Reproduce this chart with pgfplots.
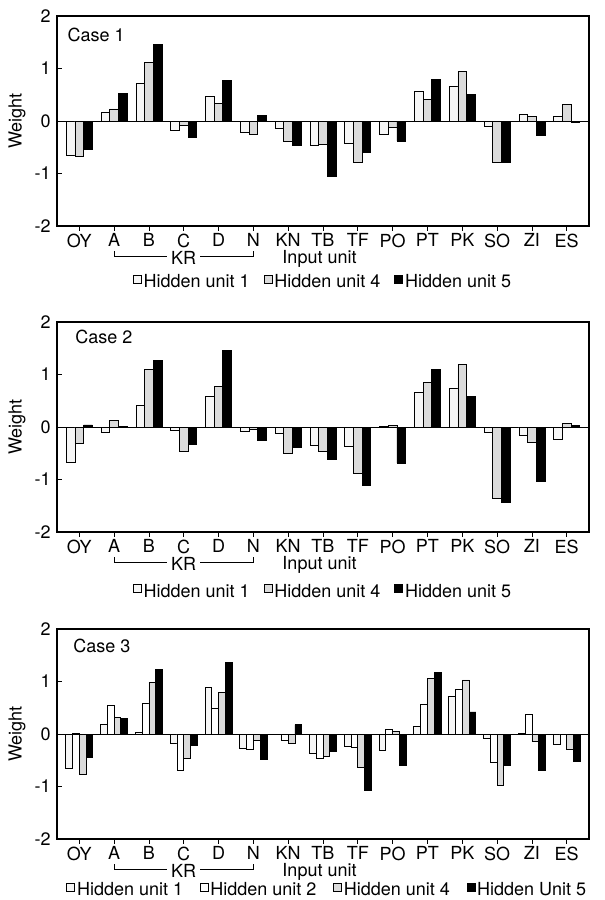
\documentclass[border=0pt]{standalone}
\usepackage{fontspec}
\setmainfont{TeX Gyre Heros}
\usepackage{pgfplots}
\usepackage{pgfplotstable}
\pgfplotsset{compat=1.18}

% weights, x = input unit index
\pgfplotstableread{
x h1 h4 h5
0 -0.65 -0.67 -0.55
1 0.17 0.23 0.52
2 0.72 1.11 1.45
3 -0.18 -0.08 -0.31
4 0.47 0.33 0.77
5 -0.22 -0.25 0.11
6 -0.14 -0.39 -0.46
7 -0.47 -0.44 -1.05
8 -0.43 -0.78 -0.60
9 -0.25 -0.13 -0.38
10 0.56 0.41 0.80
11 0.66 0.94 0.50
12 -0.10 -0.78 -0.79
13 0.12 0.08 -0.28
14 0.09 0.32 -0.03
}\caseone

\pgfplotstableread{
x h1 h4 h5
0 -0.68 -0.32 0.04
1 -0.10 0.12 0.01
2 0.41 1.09 1.27
3 -0.06 -0.47 -0.33
4 0.59 0.78 1.46
5 -0.09 -0.04 -0.25
6 -0.13 -0.50 -0.38
7 -0.35 -0.47 -0.61
8 -0.36 -0.88 -1.12
9 0.01 0.03 -0.69
10 0.65 0.85 1.10
11 0.74 1.19 0.59
12 -0.11 -1.36 -1.43
13 -0.16 -0.29 -1.03
14 -0.24 0.07 0.03
}\casetwo

\pgfplotstableread{
x h1 h2 h4 h5
0 -0.65 0.02 -0.76 -0.45
1 0.19 0.54 0.31 0.30
2 0.04 0.58 0.99 1.23
3 -0.17 -0.70 -0.46 -0.21
4 0.89 0.48 0.79 1.36
5 -0.28 -0.29 -0.13 -0.48
6 -0.01 -0.13 -0.17 0.18
7 -0.37 -0.47 -0.43 -0.34
8 -0.23 -0.26 -0.63 -1.08
9 -0.32 0.08 0.05 -0.60
10 0.15 0.56 1.05 1.17
11 0.71 0.85 1.03 0.42
12 -0.08 -0.54 -0.97 -0.59
13 0.01 0.38 -0.15 -0.70
14 -0.20 -0.01 -0.30 -0.52
}\casethree

\pgfplotsset{
  panel/.style={
    scale only axis, width=399pt, height=157.5pt,
    xmin=-0.64, xmax=14.64, ymin=-2, ymax=2,
    ytick={-2,-1,0,1,2}, yticklabels={-2,-1,0,1,2},
    xtick={0,...,14},
    xticklabels={OY,A,B,C,D,N,KN,TB,TF,PO,PT,PK,SO,ZI,ES},
    xticklabel style={yshift=2.5pt},
    tick pos=left, tick align=inside, major tick length=3.5pt,
    axis line style={line width=0.9pt},
    tick style={black, line width=0.6pt},
    extra y ticks={0}, extra y tick labels={},
    extra y tick style={grid=major, major grid style={black, line width=0.6pt}},
    ylabel={Weight},
    ylabel style={at={(axis description cs:-0.075,0.5)}, anchor=center},
    clip=false,
    legend columns=-1,
    legend style={draw=none, fill=none, anchor=center,
      nodes={inner sep=1.5pt},
      /tikz/every even column/.append style={column sep=9pt}},
  },
  boxlegend/.style={
    legend image code/.code={\draw[##1, line width=0.5pt] (0pt,-0.5pt) rectangle (6pt,5.5pt);}},
  u1/.style={draw=black, fill=gray!7, line width=0.6pt},
  u2/.style={draw=black, fill=white, line width=0.6pt},
  u4/.style={draw=black, fill=gray!28, line width=0.6pt},
  u5/.style={draw=black, fill=black, line width=0.6pt},
}

\newcommand{\kr}{%
  \draw[line width=0.6pt] (axis cs:1,-2.48) -- (axis cs:1,-2.58) -- (axis cs:5,-2.58) -- (axis cs:5,-2.48);
  \node[fill=white, inner xsep=3pt, inner ysep=0pt] at (axis cs:3,-2.6) {KR};
  \node[inner sep=0.5pt] at (axis cs:6.9,-2.63) {Input unit};
}

\begin{document}
\fontsize{13.5}{16}\selectfont
\begin{tikzpicture}
\useasboundingbox (0,0) rectangle (453.75pt,-675pt);

\begin{axis}[panel, at={(42.75pt,-12pt)}, anchor=north west,
  ybar=0pt, bar width=6.5pt, boxlegend,
  legend style={at={(0.5,-0.268)}}]
\addplot[u1] table[x=x, y=h1] {\caseone};
\addplot[u4] table[x=x, y=h4] {\caseone};
\addplot[u5] table[x=x, y=h5] {\caseone};
\legend{Hidden unit 1, Hidden unit 4, Hidden unit 5}
\node[anchor=north west, inner sep=0pt, xshift=7.7pt, yshift=-8.5pt] at (rel axis cs:0,1) {Case 1};
\kr
\end{axis}

\begin{axis}[panel, at={(42.75pt,-241.5pt)}, anchor=north west,
  ybar=0pt, bar width=6.5pt, boxlegend,
  legend style={at={(0.5,-0.285)}}]
\addplot[u1] table[x=x, y=h1] {\casetwo};
\addplot[u4] table[x=x, y=h4] {\casetwo};
\addplot[u5] table[x=x, y=h5] {\casetwo};
\legend{Hidden unit 1, Hidden unit 4, Hidden unit 5}
\node[anchor=north west, inner sep=0pt, xshift=13.5pt, yshift=-5.5pt] at (rel axis cs:0,1) {Case 2};
\kr
\end{axis}

\begin{axis}[panel, at={(42.75pt,-471.75pt)}, anchor=north west,
  ybar=0pt, bar width=5.1pt, boxlegend,
  legend style={at={(0.508,-0.245)},
    /tikz/every even column/.append style={column sep=11pt}}]
\addplot[u1] table[x=x, y=h1] {\casethree};
\addplot[u2] table[x=x, y=h2] {\casethree};
\addplot[u4] table[x=x, y=h4] {\casethree};
\addplot[u5] table[x=x, y=h5] {\casethree};
\legend{Hidden unit 1, Hidden unit 2, Hidden unit 4, Hidden Unit 5}
\node[anchor=north west, inner sep=0pt, xshift=12pt, yshift=-7pt] at (rel axis cs:0,1) {Case 3};
\kr
\end{axis}
\end{tikzpicture}
\end{document}
